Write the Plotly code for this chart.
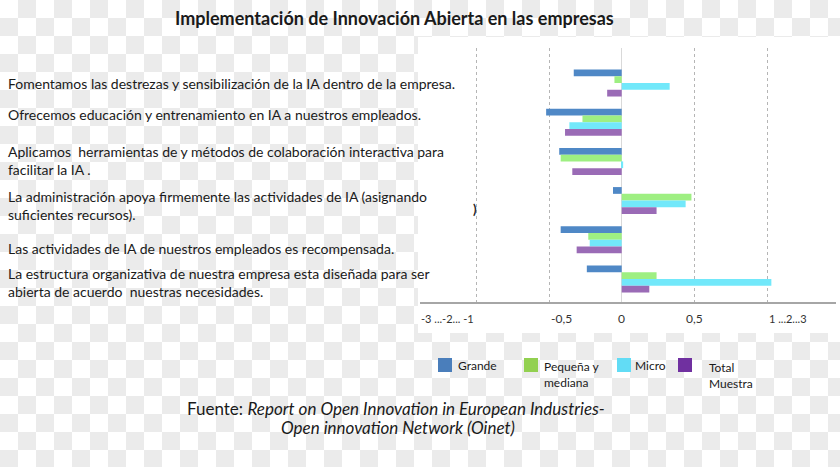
import plotly.graph_objects as go

# ---------------- data ----------------
categories = [
    "Fomentamos las destrezas y sensibilización de la IA dentro de la empresa.",
    "Ofrecemos educación y entrenamiento en IA a nuestros empleados.",
    "Aplicamos  herramientas de y métodos de colaboración interactiva para<br>facilitar la IA .",
    "La administración apoya firmemente las actividades de IA (asignando<br>suficientes recursos).",
    "Las actividades de IA de nuestros empleados es recompensada.",
    "La estructura organizativa de nuestra empresa esta diseñada para ser<br>abierta de acuerdo  nuestras necesidades.",
]
series_names = ["Grande", "Pequeña y<br>mediana", "Micro", "Total<br>Muestra"]
grande = [-0.33, -0.52, -0.43, -0.06, -0.42, -0.24]
pequena = [-0.05, -0.27, -0.42, 0.48, -0.23, 0.24]
micro = [0.33, -0.36, 0.01, 0.44, -0.22, 1.03]
total = [-0.10, -0.39, -0.34, 0.24, -0.31, 0.19]
series_values = [grande, pequena, micro, total]

tick_vals = [-1, -0.5, 0, 0.5, 1]
tick_text = ["-3 ...-2... -1", "-0,5", "0", "0,5", "1 ...2...3"]

title_text = "Implementación de Innovación Abierta en las empresas"
source_lines = ["Fuente: <i>Report on Open Innovation in European Industries-</i>",
                "<i>Open innovation Network (Oinet)</i>"]

# ---------------- styles ----------------
bar_colors = ["#4F88C6", "#9EEF82", "#72E8FA", "#9A6BB6"]
legend_colors = ["#4A7EBB", "#92D050", "#62DCF5", "#7030A0"]
FONT = "Lato"

W, H = 840, 467
ML, MR, MT, MB = 420, 4, 48, 165
PW, PH = W - ML - MR, H - MT - MB


def px(x):
    return (x - ML) / PW


def py(y):
    return (H - MB - y) / PH


fig = go.Figure()
for name, vals, col in zip(series_names, series_values, bar_colors):
    fig.add_trace(go.Bar(
        x=vals, y=categories, orientation="h", name=name,
        marker=dict(color=col, line=dict(width=0)), showlegend=False,
    ))

# checkerboard background (transparent-image look)
sq = 18
parts = []
for r in range(0, H // sq + 1):
    for c in range(0, W // sq + 1):
        if (r + c) % 2 == 1:
            x0, x1 = px(c * sq), px(c * sq + sq)
            y0, y1 = py(r * sq), py(r * sq + sq)
            parts.append(f"M{x0:.5f},{y0:.5f}H{x1:.5f}V{y1:.5f}H{x0:.5f}Z")
shapes = [
    dict(type="path", xref="paper", yref="paper", path="".join(parts),
         fillcolor="#EBEBEB", line=dict(width=0), layer="below"),
    dict(type="rect", xref="paper", yref="paper",
         x0=px(418), x1=px(W), y0=py(37), y1=py(333),
         fillcolor="white", line=dict(width=0), layer="below"),
]

annotations = []
# category labels (left, left-aligned)
label_shift = [0, 8, 1, -5, -9, -3]
for i, (cat, sh) in enumerate(zip(categories, label_shift)):
    annotations.append(dict(
        text=cat, x=px(6), xref="paper", y=i, yref="y", yshift=sh,
        xanchor="left", yanchor="middle", align="left", showarrow=False,
        font=dict(family=FONT, size=14, color="#1A1A1A")))

# x tick labels (broken axis: some labels sit beside their gridline)
tick_anchor = ["right", "left", "center", "center", "left"]
tick_size = [11, 12, 12, 12, 11]
for v, t, a, s in zip(tick_vals, tick_text, tick_anchor, tick_size):
    annotations.append(dict(text=t, x=v, xref="x", y=py(318), yref="paper",
                            xanchor=a, yanchor="middle", showarrow=False,
                            font=dict(family=FONT, size=s, color="#333333")))

# stray parenthesis
annotations.append(dict(text="<b>)</b>", x=px(475), xref="paper", y=py(209), yref="paper",
                        xanchor="center", yanchor="middle", showarrow=False,
                        font=dict(family=FONT, size=13, color="#222222")))

# title
annotations.append(dict(text="<b>" + title_text + "</b>", x=px(394), xref="paper",
                        y=py(18), yref="paper", xanchor="center", yanchor="middle",
                        showarrow=False, font=dict(family=FONT, size=18, color="#1A1A1A")))

# source
for line, cx, cy in zip(source_lines, [396, 398], [408, 427]):
    annotations.append(dict(text=line, x=px(cx), xref="paper", y=py(cy), yref="paper",
                            xanchor="center", yanchor="middle", align="center", showarrow=False,
                            font=dict(family=FONT, size=17, color="#1A1A1A")))

# manual legend
leg_sq = [438, 524, 617, 678]
leg_tx = [456, 542, 633, 707]
leg_ty = [365, 374, 365, 375.5]
for name, col, sx, tx, ty in zip(series_names, legend_colors, leg_sq, leg_tx, leg_ty):
    shapes.append(dict(type="rect", xref="paper", yref="paper",
                       x0=px(sx), x1=px(sx + 14), y0=py(358), y1=py(372),
                       fillcolor=col, line=dict(width=0), layer="above"))
    annotations.append(dict(text=name, x=px(tx), xref="paper", y=py(ty), yref="paper",
                            xanchor="left", yanchor="middle", align="left", showarrow=False,
                            font=dict(family=FONT, size=12, color="#1A1A1A")))

x0_px, x_scale = 621.7, 145.3
fig.update_layout(
    width=W, height=H,
    margin=dict(l=ML, r=MR, t=MT, b=MB, pad=0),
    paper_bgcolor="white", plot_bgcolor="rgba(0,0,0,0)",
    barmode="group", bargap=0.31, bargroupgap=0,
    font=dict(family=FONT, size=12, color="#333333"),
    showlegend=False,
    shapes=shapes, annotations=annotations,
    xaxis=dict(
        range=[(ML - x0_px) / x_scale, (W - MR - x0_px) / x_scale],
        tickvals=tick_vals, showticklabels=False,
        showgrid=True, gridcolor="#B5B5B5", griddash="dot", gridwidth=1,
        zeroline=True, zerolinecolor="#D9D9D9", zerolinewidth=1,
        showline=True, linecolor="#A6A6A6", linewidth=2,
        ticks="", fixedrange=True,
    ),
    yaxis=dict(
        type="category", categoryorder="array", categoryarray=categories,
        range=[(H - MB - 83) / 39.2, (MT - 83) / 39.2],
        showticklabels=False, showgrid=False, zeroline=False, showline=False, ticks="",
        fixedrange=True,
    ),
)

fig.write_html("out.html", config={"displayModeBar": False},
               post_script="document.body.style.margin='0';document.body.style.overflow='hidden';")
